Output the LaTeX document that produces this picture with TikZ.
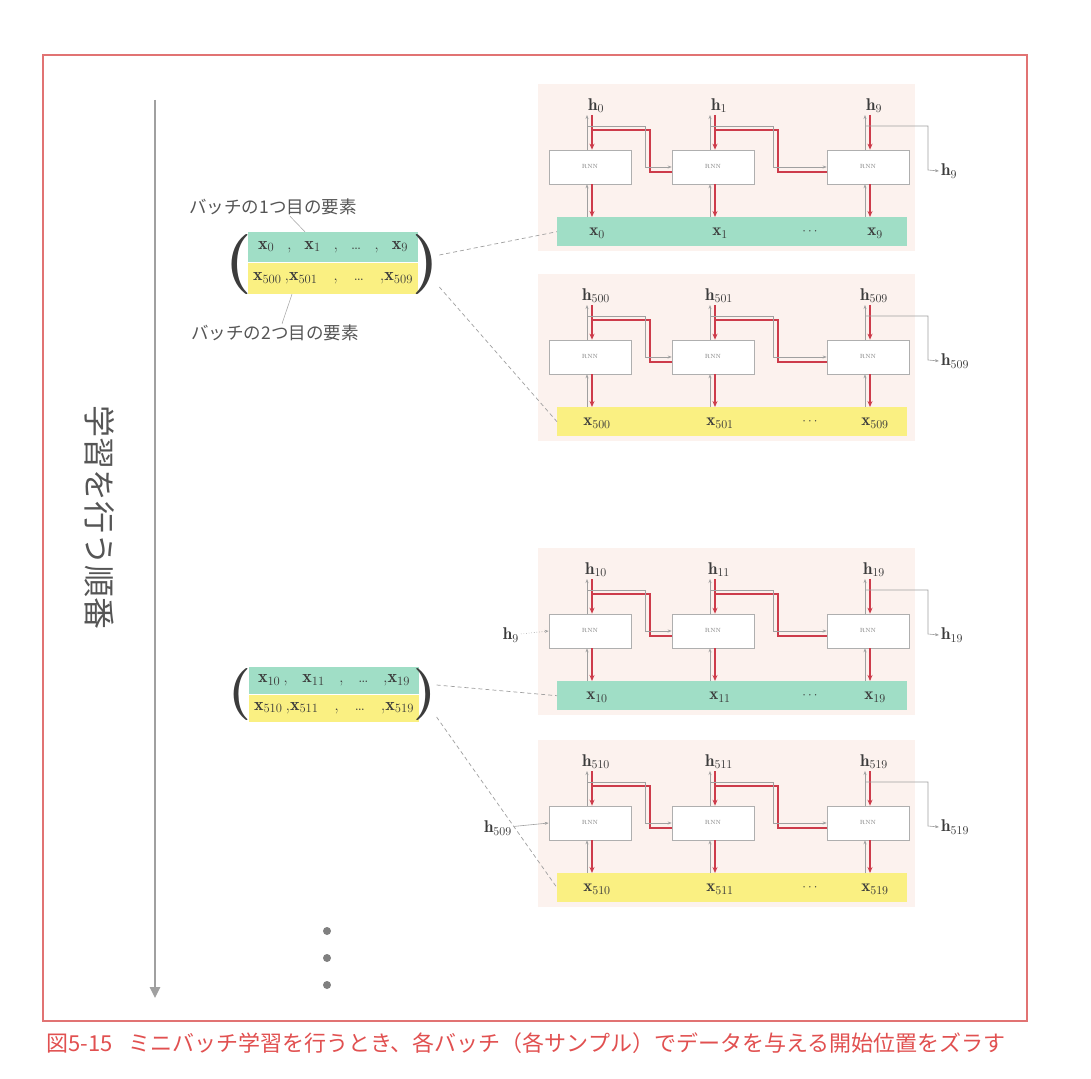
\RequirePackage{fix-cm}
\documentclass[tikz,border=0pt]{standalone}
\usepackage{fontspec}
\newfontfamily\jpf{Noto Sans CJK JP}
\usetikzlibrary{arrows.meta}
\definecolor{bgpink}{RGB}{252,242,238}
\definecolor{bandgreen}{RGB}{160,222,198}
\definecolor{bandyellow}{RGB}{250,240,130}
\definecolor{arrred}{RGB}{205,60,75}
\definecolor{lgray}{RGB}{160,160,160}
\definecolor{boxgray}{RGB}{175,175,175}
\definecolor{txtgray}{RGB}{60,60,60}
\definecolor{jpgray}{RGB}{85,85,85}
\definecolor{capred}{RGB}{225,80,80}
\definecolor{framecol}{RGB}{225,115,115}
\tikzset{
  x=1pt, y=-1pt,
  bgbox/.style={fill=bgpink, draw=none, inner sep=0},
  rnnbox/.style={draw=boxgray, fill=white, line width=0.6pt, minimum width=82, minimum height=34, inner sep=0, font=\fontsize{6}{6}\selectfont, text=gray},
  bandbox/.style={draw=none, inner sep=0, minimum width=350, minimum height=29},
  hlab/.style={inner sep=2pt, font=\fontsize{17}{17}\selectfont, text=txtgray},
  xlab/.style={inner sep=0, font=\fontsize{17}{17}\selectfont, text=txtgray},
  redarr/.style={draw=arrred, line width=1.6pt, -{Stealth[length=6pt,width=5pt]}},
  redline/.style={draw=arrred, line width=1.6pt},
  grayarr/.style={draw=lgray, line width=0.6pt, -{Stealth[length=4pt,width=3pt]}},
  dashlink/.style={draw=lgray, line width=0.7pt, dash pattern=on 4pt off 3pt},
  leader/.style={draw=lgray, line width=0.5pt},
  jplab/.style={font=\jpf\fontsize{17.5}{17.5}\selectfont, text=jpgray, inner sep=1pt},
  rowbox/.style={draw=none, inner sep=0, minimum width=170, font=\fontsize{18}{18}\selectfont, text=txtgray},
  paren/.style={inner sep=0, text=txtgray},
  dotc/.style={circle, fill=gray, minimum size=8, inner sep=0}
}
\newcommand\RnnBlock[6]{%
  \node[bgbox, anchor=north west, minimum width=377, minimum height=167] (#1bg) at (538,#2) {};
  \node[bandbox, fill=#3, anchor=north west] (#1band) at (557,#2+133) {};
  \node[rnnbox] (#1r1) at (590,#2+83) {RNN};
  \node[rnnbox] (#1r2) at (713,#2+83) {RNN};
  \node[rnnbox] (#1r3) at (868,#2+83) {RNN};
  \node[hlab, anchor=south] (#1h1) at (596,#2+31) {$\mathbf{h}_{#4}$};
  \node[hlab, anchor=south] (#1h2) at (719,#2+31) {$\mathbf{h}_{#5}$};
  \node[hlab, anchor=south] (#1h3) at (874,#2+31) {$\mathbf{h}_{#6}$};
  \node[xlab] (#1x1) at (597,#2+149) {$\mathbf{x}_{#4}$};
  \node[xlab] (#1x2) at (720,#2+149) {$\mathbf{x}_{#5}$};
  \node[xlab, font=\fontsize{13}{13}\selectfont] (#1dt) at (810,#2+148) {$\cdots$};
  \node[xlab] (#1x3) at (875,#2+149) {$\mathbf{x}_{#6}$};
  \node[hlab, anchor=west] (#1out) at (939,#2+87) {$\mathbf{h}_{#6}$};
  \foreach \k in {1,2,3}{
    \draw[redarr] ([xshift=2pt]#1r\k.north |- #1h\k.south) -- ([xshift=2pt]#1r\k.north);
    \draw[grayarr] ([xshift=-3pt]#1r\k.north) -- ([xshift=-3pt]#1r\k.north |- #1h\k.south);
    \draw[redarr] ([xshift=2pt]#1r\k.south) -- ([xshift=2pt]#1r\k.south |- #1band.north);
    \draw[grayarr] ([xshift=-3pt]#1r\k.south |- #1band.north) -- ([xshift=-3pt]#1r\k.south);
  }
  \draw[redline] (592,#2+46) -| (650,#2+88) -- ([yshift=-5pt]#1r2.west);
  \draw[grayarr] (587,#2+42) -| (645,#2+83) -- (#1r2.west);
  \draw[redline] (715,#2+46) -| (778,#2+88) -- ([yshift=-5pt]#1r3.west);
  \draw[grayarr] (710,#2+42) -| (773,#2+83) -- (#1r3.west);
  \draw[grayarr] (865,#2+42) -| (928,#2+86) -- (#1out.west);
}
\begin{document}
\begin{tikzpicture}
\useasboundingbox (0,0) rectangle (1091,1078);
\fill[white] (0,0) rectangle (1091,1078);
% frame
\draw[framecol, line width=1.1pt] (43,55) rectangle (1027,1021);
% time arrow
\coordinate (tA) at (155,100);
\coordinate (tB) at (155,998);
\draw[draw=lgray, line width=2.6pt, -{Triangle[length=11pt,width=10pt]}] (tA) -- (tB);
\node[rotate=-90, font=\jpf\fontsize{32}{32}\selectfont, text=jpgray] (order) at (100,517) {学習を行う順番};
% blocks
\RnnBlock{A}{84}{bandgreen}{0}{1}{9}
\RnnBlock{B}{274}{bandyellow}{500}{501}{509}
\RnnBlock{C}{548}{bandgreen}{10}{11}{19}
\RnnBlock{D}{740}{bandyellow}{510}{511}{519}
% inputs
\node[hlab, anchor=east] (inC) at (521,635) {$\mathbf{h}_{9}$};
\draw[grayarr, dotted] (inC) -- (Cr1.west);
\node[hlab, anchor=east] (inD) at (514,828) {$\mathbf{h}_{509}$};
\draw[grayarr] (inD) -- (Dr1.west);
% batch 1
\node[rowbox, fill=bandgreen, minimum height=30] (b1g) at (333,247) {\makebox[150pt]{$\mathbf{x}_{0}$\hfill,\hfill$\mathbf{x}_{1}$\hfill,\hfill\dots\hfill,\hfill$\mathbf{x}_{9}$}};
\node[rowbox, fill=bandyellow, minimum height=31] (b1y) at (333,278.5) {\makebox[160pt]{$\mathbf{x}_{500}$\,,$\mathbf{x}_{501}$\hfill,\hfill\dots\hfill,$\mathbf{x}_{509}$}};
\node[paren, font=\bfseries\fontsize{60}{60}\selectfont] (b1L) at (239,265) {(};
\node[paren, font=\bfseries\fontsize{60}{60}\selectfont] (b1R) at (426,265) {)};
\node[jplab] (lab1) at (273,207) {バッチの1つ目の要素};
\node[jplab] (lab2) at (275,333) {バッチの2つ目の要素};
\draw[leader] ([xshift=17pt]lab1.south) -- ([xshift=-28pt]b1g.north);
\draw[leader] ([xshift=-41pt]b1y.south) -- ([xshift=7pt]lab2.north);
\draw[dashlink] ([yshift=10pt]b1R.east) -- (Aband.west);
\draw[dashlink] ([yshift=-22pt]b1R.east) -- (Bband.west);
% batch 2
\node[rowbox, fill=bandgreen, minimum height=27] (b2g) at (334,680.5) {\makebox[152pt]{$\mathbf{x}_{10}$\,,\hfill$\mathbf{x}_{11}$\hfill,\hfill\dots\hfill,$\mathbf{x}_{19}$}};
\node[rowbox, fill=bandyellow, minimum height=27] (b2y) at (334,708) {\makebox[160pt]{$\mathbf{x}_{510}$\,,$\mathbf{x}_{511}$\hfill,\hfill\dots\hfill,$\mathbf{x}_{519}$}};
\node[paren, font=\bfseries\fontsize{52}{52}\selectfont] (b2L) at (240,695) {(};
\node[paren, font=\bfseries\fontsize{52}{52}\selectfont] (b2R) at (425,695) {)};
\draw[dashlink] ([yshift=10pt]b2R.east) -- (Cband.west);
\draw[dashlink] ([yshift=-22pt]b2R.east) -- (Dband.west);
% dots
\node[dotc] (d1) at (327,931) {};
\node[dotc] (d2) at (327,958) {};
\node[dotc] (d3) at (327,985) {};
% caption
\node[anchor=west, inner sep=0, text=capred, font=\jpf\fontsize{22}{22}\selectfont] (cap) at (46,1043) {図5-15\hspace{16pt}ミニバッチ学習を行うとき、各バッチ（各サンプル）でデータを与える開始位置をズラす};
\end{tikzpicture}
\end{document}
